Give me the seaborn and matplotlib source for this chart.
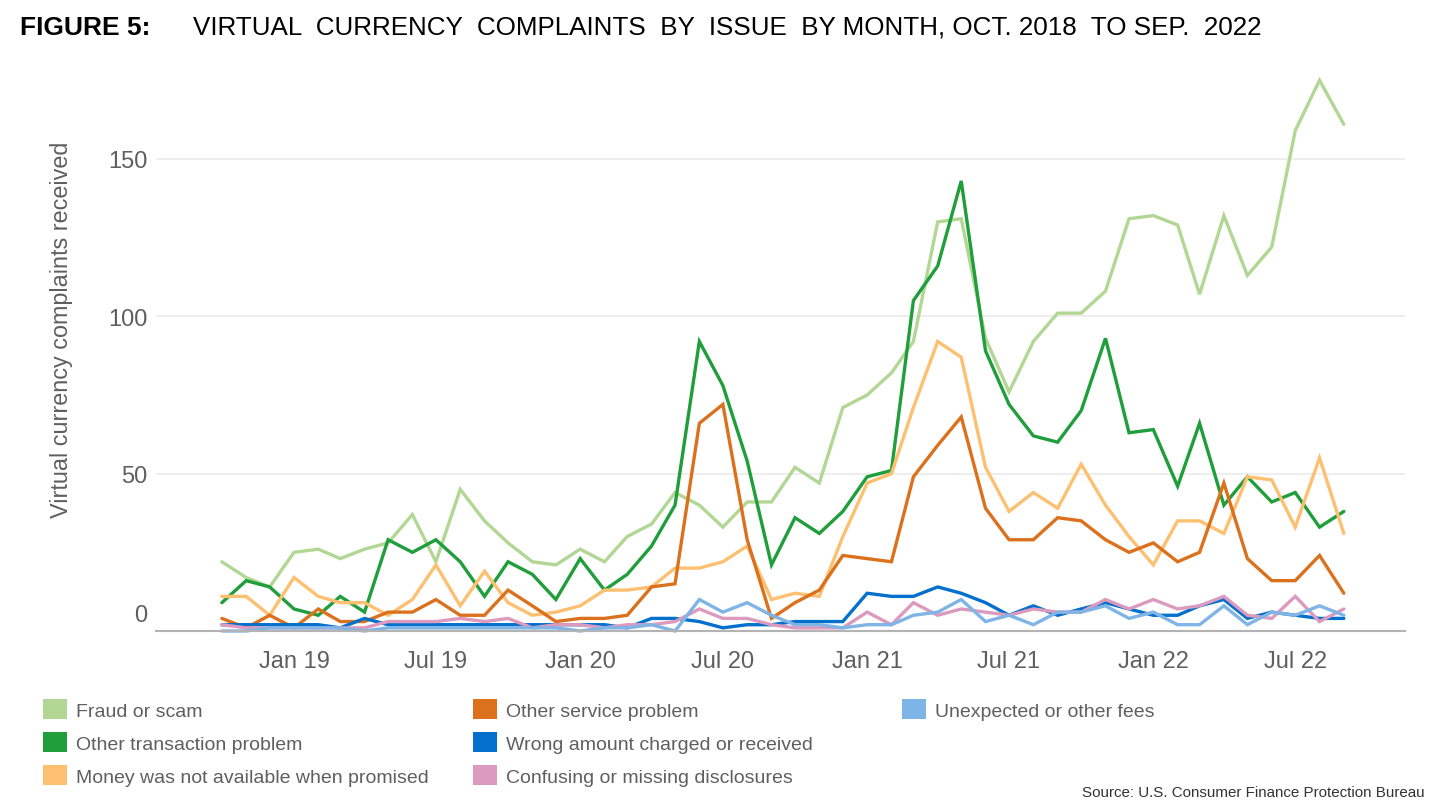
import pandas as pd
import numpy as np
import matplotlib
matplotlib.use('Agg')
import matplotlib.pyplot as plt
import matplotlib.dates as mdates
import matplotlib.transforms as mtransforms
from matplotlib.patches import Patch
import seaborn as sns

# monthly complaint counts, Oct 2018 - Sep 2022
months = pd.date_range('2018-10-01', periods=48, freq='MS')

fraud_or_scam = [22, 17, 14, 25, 26, 23, 26, 28, 37, 22, 45, 35, 28, 22, 21, 26,
                 22, 30, 34, 44, 40, 33, 41, 41, 52, 47, 71, 75, 82, 92, 130, 131,
                 93, 76, 92, 101, 101, 108, 131, 132, 129, 107, 132, 113, 122, 159, 175, 161]
other_transaction = [9, 16, 14, 7, 5, 11, 6, 29, 25, 29, 22, 11, 22, 18, 10, 23,
                     13, 18, 27, 40, 92, 78, 54, 21, 36, 31, 38, 49, 51, 105, 116, 143,
                     89, 72, 62, 60, 70, 93, 63, 64, 46, 66, 40, 49, 41, 44, 33, 38]
money_not_available = [11, 11, 5, 17, 11, 9, 9, 5, 10, 21, 8, 19, 9, 5, 6, 8,
                       13, 13, 14, 20, 20, 22, 27, 10, 12, 11, 30, 47, 50, 71, 92, 87,
                       52, 38, 44, 39, 53, 40, 30, 21, 35, 35, 31, 49, 48, 33, 55, 31]
other_service = [4, 1, 5, 1, 7, 3, 3, 6, 6, 10, 5, 5, 13, 8, 3, 4,
                 4, 5, 14, 15, 66, 72, 29, 4, 9, 13, 24, 23, 22, 49, 59, 68,
                 39, 29, 29, 36, 35, 29, 25, 28, 22, 25, 47, 23, 16, 16, 24, 12]
wrong_amount = [2, 2, 2, 2, 2, 1, 4, 2, 2, 2, 2, 2, 2, 2, 2, 2,
                2, 1, 4, 4, 3, 1, 2, 2, 3, 3, 3, 12, 11, 11, 14, 12,
                9, 5, 8, 5, 7, 9, 7, 5, 5, 8, 10, 4, 6, 5, 4, 4]
confusing_disclosures = [2, 1, 1, 1, 1, 1, 1, 3, 3, 3, 4, 3, 4, 1, 2, 2,
                         1, 2, 2, 3, 7, 4, 4, 2, 1, 1, 1, 6, 2, 9, 5, 7,
                         6, 5, 7, 6, 6, 10, 7, 10, 7, 8, 11, 5, 4, 11, 3, 7]
unexpected_fees = [0, 0, 1, 1, 1, 1, 0, 1, 1, 1, 1, 1, 1, 1, 1, 0,
                   1, 1, 2, 0, 10, 6, 9, 5, 2, 2, 1, 2, 2, 5, 6, 10,
                   3, 5, 2, 6, 6, 8, 4, 6, 2, 2, 8, 2, 6, 5, 8, 5]

issues = ['Fraud or scam', 'Other transaction problem', 'Money was not available when promised',
          'Other service problem', 'Wrong amount charged or received', 'Confusing or missing disclosures',
          'Unexpected or other fees']
colors = ['#b2d795', '#1f9e3b', '#fdc070', '#dc711d', '#0270cc', '#dd9abf', '#7fb4e6']
series = [fraud_or_scam, other_transaction, money_not_available, other_service,
          wrong_amount, confusing_disclosures, unexpected_fees]

df = pd.DataFrame({'month': months})
for name, vals in zip(issues, series):
    df[name] = vals
long = df.melt(id_vars='month', var_name='issue', value_name='complaints')

sns.set_style('white')
plt.rcParams['font.family'] = ['Liberation Sans', 'DejaVu Sans']

fig = plt.figure(figsize=(14.33, 8.12), dpi=100)
ax = fig.add_axes([156 / 1433, 1 - 632 / 812, (1405 - 156) / 1433, 185 * 3.147 / 812])

sns.lineplot(data=long, x='month', y='complaints', hue='issue', hue_order=issues,
             palette=colors, linewidth=2.4, legend=False, ax=ax)
for ln in ax.lines:
    ln.set_clip_on(False)
    ln.set_solid_joinstyle('miter')

ax.set_ylim(0, 185)
ax.set_xlim(pd.Timestamp('2018-07-09'), pd.Timestamp('2022-11-18'))
ax.set_yticks([0, 50, 100, 150])
ax.yaxis.grid(True, color='#ebebeb', linewidth=1.2)
ax.set_axisbelow(True)
for s in ['top', 'right', 'left']:
    ax.spines[s].set_visible(False)
ax.spines['bottom'].set_color('#b3b3b3')
ax.spines['bottom'].set_linewidth(1.5)
ax.set_xlabel('')
ax.set_ylabel('')

ax.xaxis.set_major_locator(mdates.MonthLocator(bymonth=[1, 7]))
ax.xaxis.set_major_formatter(mdates.DateFormatter('%b %y'))
ax.xaxis.set_minor_locator(mdates.MonthLocator(bymonth=[4, 10]))
ax.tick_params(axis='x', which='both', length=6, width=1, color='#d0d0d0', direction='out')
ax.tick_params(axis='x', which='major', pad=8, labelsize=17, labelcolor='#5f5f5f')
ax.tick_params(axis='y', length=0, pad=6, labelsize=17, labelcolor='#5f5f5f')

# the zero label sits above the baseline in the original
zero_lbl = ax.get_yticklabels()[0]
zero_lbl.set_transform(zero_lbl.get_transform() + mtransforms.ScaledTranslation(0, 0.18, fig.dpi_scale_trans))

fig.text(62 / 1433, 1 - 330 / 812, 'Virtual currency complaints received', rotation=90,
         ha='center', va='center', fontsize=16.8, color='#5f5f5f')

fig.text(20 / 1433, 1 - 28 / 812, 'FIGURE 5:', fontsize=19, fontweight='bold',
         ha='left', va='center', color='black')
fig.text(193 / 1433, 1 - 28 / 812,
         'VIRTUAL  CURRENCY  COMPLAINTS  BY  ISSUE  BY MONTH, OCT. 2018  TO SEP.  2022',
         fontsize=18.7, ha='left', va='center', color='black')

# legend in three columns
handles = [Patch(facecolor=c, edgecolor='none') for c in colors]
col_x = [43, 473, 902]
groups = [(0, 3), (3, 6), (6, 7)]
for cx, (a, b) in zip(col_x, groups):
    leg = fig.legend(handles[a:b], issues[a:b], loc='upper left',
                     bbox_to_anchor=(cx / 1433, 1 - 700 / 812), frameon=False,
                     fontsize=14, handlelength=1.24, handleheight=1.24,
                     handletextpad=0.45, labelspacing=0.63, borderpad=0, borderaxespad=0)
    for t in leg.get_texts():
        t.set_color('#5f5f5f')

fig.text(1425 / 1433, 1 - 793 / 812, 'Source: U.S. Consumer Finance Protection Bureau',
         fontsize=10.9, ha='right', va='center', color='#333333')

fig.savefig('out.png', dpi=100)
